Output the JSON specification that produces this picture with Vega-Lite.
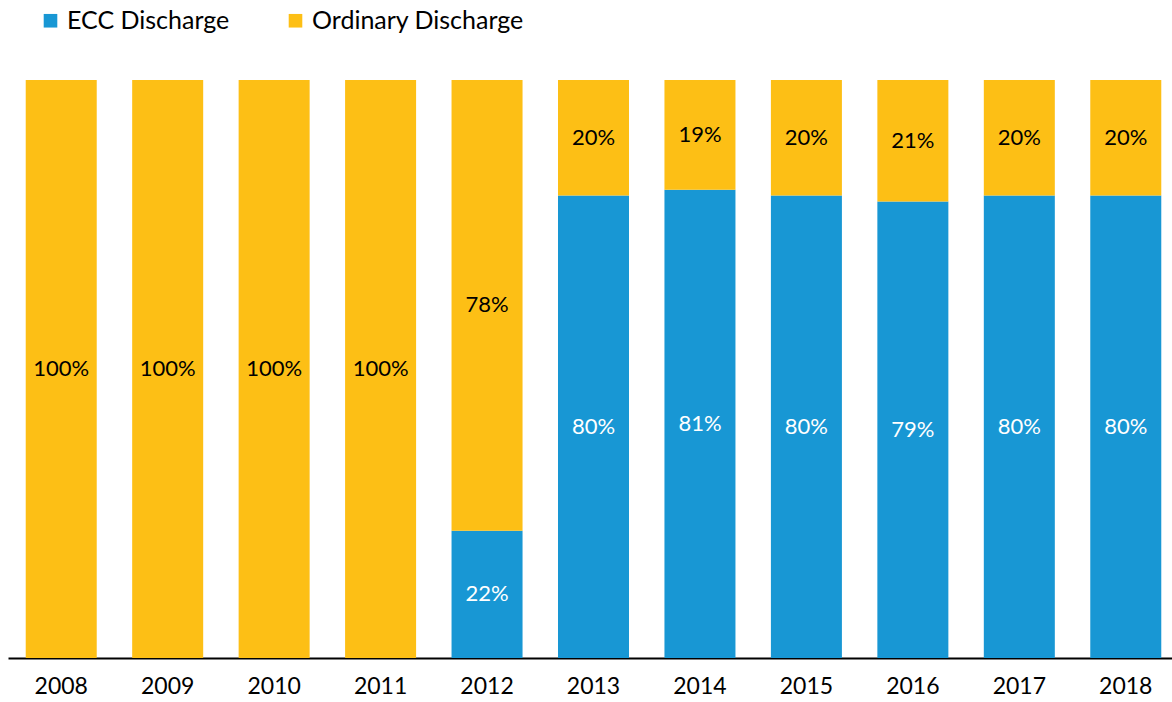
{
  "$schema": "https://vega.github.io/schema/vega-lite/v6.json",
  "width": 1164,
  "height": 578,
  "autosize": "none",
  "padding": {"left": 8, "top": 80, "right": 0, "bottom": 44},
  "background": "white",
  "config": {"view": {"stroke": null}, "font": "Lato"},
  "data": {
    "values": [
      {"year": "2008", "type": "Ordinary Discharge", "value": 100, "label": "100%"},
      {"year": "2009", "type": "Ordinary Discharge", "value": 100, "label": "100%"},
      {"year": "2010", "type": "Ordinary Discharge", "value": 100, "label": "100%"},
      {"year": "2011", "type": "Ordinary Discharge", "value": 100, "label": "100%"},
      {"year": "2012", "type": "ECC Discharge", "value": 22, "label": "22%"},
      {"year": "2012", "type": "Ordinary Discharge", "value": 78, "label": "78%"},
      {"year": "2013", "type": "ECC Discharge", "value": 80, "label": "80%"},
      {"year": "2013", "type": "Ordinary Discharge", "value": 20, "label": "20%"},
      {"year": "2014", "type": "ECC Discharge", "value": 81, "label": "81%"},
      {"year": "2014", "type": "Ordinary Discharge", "value": 19, "label": "19%"},
      {"year": "2015", "type": "ECC Discharge", "value": 80, "label": "80%"},
      {"year": "2015", "type": "Ordinary Discharge", "value": 20, "label": "20%"},
      {"year": "2016", "type": "ECC Discharge", "value": 79, "label": "79%"},
      {"year": "2016", "type": "Ordinary Discharge", "value": 21, "label": "21%"},
      {"year": "2017", "type": "ECC Discharge", "value": 80, "label": "80%"},
      {"year": "2017", "type": "Ordinary Discharge", "value": 20, "label": "20%"},
      {"year": "2018", "type": "ECC Discharge", "value": 80, "label": "80%"},
      {"year": "2018", "type": "Ordinary Discharge", "value": 20, "label": "20%"}
    ]
  },
  "encoding": {
    "x": {
      "field": "year",
      "type": "ordinal",
      "scale": {"paddingInner": 0.333, "paddingOuter": 0.1665, "range": [0, 1171]},
      "axis": {
        "title": null,
        "labelAngle": 0,
        "labelFontSize": 23,
        "labelColor": "#000000",
        "labelPadding": 17,
        "ticks": false,
        "domainColor": "#000000",
        "domainWidth": 2
      }
    },
    "order": {"field": "type", "sort": "ascending"}
  },
  "layer": [
    {
      "mark": {"type": "bar"},
      "encoding": {
        "y": {"field": "value", "type": "quantitative", "stack": "zero", "scale": {"domain": [0, 100]}, "axis": null},
        "color": {
          "field": "type",
          "type": "nominal",
          "scale": {"domain": ["ECC Discharge", "Ordinary Discharge"], "range": ["#1897D4", "#FDBF15"]},
          "legend": {
            "title": null,
            "orient": "none",
            "direction": "horizontal",
            "legendX": 30,
            "legendY": -72,
            "symbolType": "square",
            "symbolSize": 185,
            "symbolStrokeWidth": 0,
            "labelFontSize": 25,
            "labelColor": "#000000",
            "labelOffset": 4,
            "labelLimit": 400,
            "columnPadding": 53
          }
        }
      }
    },
    {
      "mark": {"type": "text", "fontSize": 22, "baseline": "middle"},
      "encoding": {
        "y": {"field": "value", "type": "quantitative", "stack": "zero", "bandPosition": 0.5},
        "text": {"field": "label"},
        "color": {"condition": {"test": "datum.type === 'ECC Discharge'", "value": "#ffffff"}, "value": "#000000"}
      }
    }
  ]
}
